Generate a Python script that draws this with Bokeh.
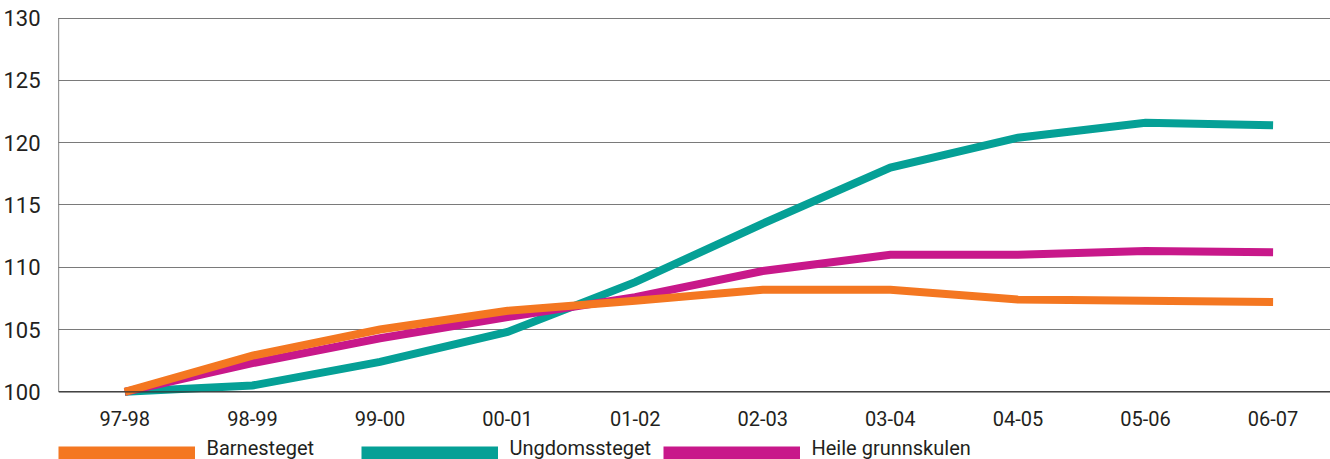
from bokeh.plotting import figure
from bokeh.layouts import column
from bokeh.models import Range1d, FixedTicker, Span, Legend, LegendItem, Label
from bokeh.embed import file_html
from bokeh.resources import INLINE

# School years and index values (1997-98 = 100)
years = ["97-98", "98-99", "99-00", "00-01", "01-02",
         "02-03", "03-04", "04-05", "05-06", "06-07"]
barnesteget = [100, 102.9, 105.0, 106.5, 107.3, 108.2, 108.2, 107.4, 107.3, 107.2]
ungdomssteget = [100, 100.5, 102.4, 104.8, 108.8, 113.5, 118.0, 120.4, 121.6, 121.4]
heile = [100, 102.3, 104.3, 106.0, 107.6, 109.7, 111.0, 111.0, 111.3, 111.2]
series_names = ["Barnesteget", "Ungdomssteget", "Heile grunnskulen"]
y_ticks = [100, 105, 110, 115, 120, 125, 130]

ORANGE = "#f47721"
TEAL = "#05a096"
MAGENTA = "#c8188a"
INK = "#231f20"
FONT = "Roboto"

xs = list(range(len(years)))
X0, X1 = -0.52, 9.45

p = figure(width=1330, height=429, output_backend="svg", toolbar_location=None,
           x_range=Range1d(X0, X1), y_range=Range1d(99.3, 130.05),
           min_border_left=58, min_border_right=0, min_border_top=17,
           min_border_bottom=29)
p.outline_line_color = None
p.background_fill_color = "white"
p.border_fill_color = "white"

# horizontal grid
p.xgrid.grid_line_color = None
p.ygrid.ticker = FixedTicker(ticks=y_ticks)
p.ygrid.grid_line_color = "#7a7a7a"
p.ygrid.grid_line_width = 1

# y axis
p.yaxis.ticker = FixedTicker(ticks=y_ticks)
p.yaxis.axis_line_color = None
p.yaxis.major_tick_line_color = None
p.yaxis.minor_tick_line_color = None
p.yaxis.major_label_standoff = 12
p.yaxis.major_label_text_font = FONT
p.yaxis.major_label_text_font_size = "22px"
p.yaxis.major_label_text_color = INK

# x axis with the school-year labels
p.xaxis.ticker = FixedTicker(ticks=xs)
p.xaxis.major_label_overrides = {i: lab for i, lab in zip(xs, years)}
p.xaxis.axis_line_color = None
p.xaxis.major_tick_line_color = None
p.xaxis.minor_tick_line_color = None
p.xaxis.major_label_standoff = 4
p.xaxis.major_label_text_font = FONT
p.xaxis.major_label_text_font_size = "20px"
p.xaxis.major_label_text_color = INK

# base line at 100 and left frame edge
p.add_layout(Span(location=100, dimension="width", line_color="#333333", line_width=1.2))
p.segment(x0=[X0], y0=[100], x1=[X0], y1=[130], line_color="#333333", line_width=1.2)

for vals, col in [(ungdomssteget, TEAL), (heile, MAGENTA), (barnesteget, ORANGE)]:
    p.line(xs, vals, line_color=col, line_width=8, line_join="miter", line_cap="butt")

# legend strip underneath the chart (its frame lines up with the chart frame)
lg = figure(width=1330, height=30, output_backend="svg", toolbar_location=None,
            x_axis_location=None, y_axis_location=None,
            min_border_left=0, min_border_right=0, min_border_top=0,
            min_border_bottom=0)
lg.outline_line_color = None
lg.grid.visible = False
lg.background_fill_color = "white"
lg.border_fill_color = "white"

swatches = [lg.line([0, 1], [0, 0], line_color=c, line_width=18, line_cap="butt")
            for c in (ORANGE, TEAL, MAGENTA)]
offsets = [0, 303, 605]
for name, r, off in zip(series_names, swatches, offsets):
    # colour swatch
    leg = Legend(items=[LegendItem(label="", renderers=[r])],
                 location=(off, -5), orientation="horizontal",
                 glyph_width=137, glyph_height=18, label_standoff=0,
                 label_width=0, label_height=0, label_text_font_size="1px",
                 padding=0, margin=0, spacing=0,
                 border_line_color=None, background_fill_alpha=0)
    lg.add_layout(leg, "center")
    # series name next to it
    lg.add_layout(Label(x=off + 148, y=12, x_units="screen", y_units="screen",
                        text=name, text_font=FONT, text_font_size="20px",
                        text_baseline="alphabetic", text_align="left",
                        text_color=INK))
# the swatch lines themselves sit outside the visible strip
lg.x_range = Range1d(10, 11)
lg.y_range = Range1d(10, 11)

open("out.html", "w").write(file_html(column(p, lg), INLINE))
